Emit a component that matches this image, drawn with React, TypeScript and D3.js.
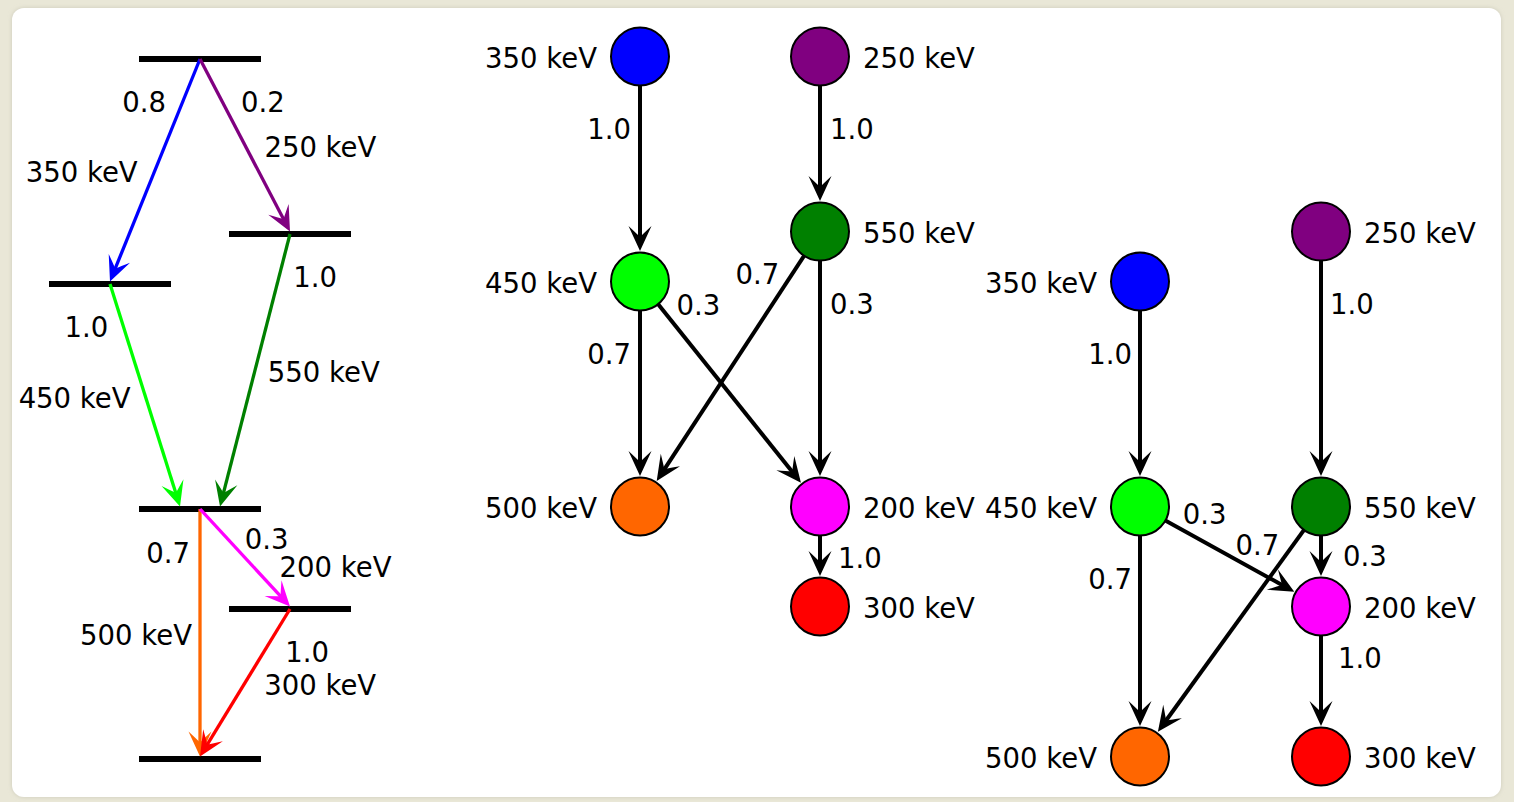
import React from 'react';
import * as d3 from 'd3';

// level scheme: levels (keV) and which column they sit in
const levelIds = ['A', 'C', 'B', 'D', 'E', 'F'];
const levelEnergies = [1400, 1050, 950, 500, 300, 0];
const levelColumns = ['main', 'right', 'left', 'main', 'right', 'main'];

// gamma transitions
const gammaEnergies = [350, 250, 450, 550, 500, 200, 300];
const gammaFrom = ['A', 'A', 'B', 'C', 'D', 'D', 'E'];
const gammaTo = ['B', 'C', 'D', 'D', 'F', 'E', 'F'];
const gammaIntensity = ['0.8', '0.2', '1.0', '1.0', '0.7', '0.3', '1.0'];
const gammaColors = ['#0000ff', '#800080', '#00ff00', '#008000', '#ff6600', '#ff00ff', '#ff0000'];
const gammaGraphColumn = [0, 1, 0, 1, 0, 1, 1];

// cascade edges between gammas (branching probability)
const cascadeFrom = [350, 250, 450, 450, 550, 550, 200];
const cascadeTo = [450, 550, 500, 200, 500, 200, 300];
const cascadeProb = ['1.0', '1.0', '0.7', '0.3', '0.7', '0.3', '1.0'];

// layout tweaks (label offsets: [dy from source, dx from line, anchor])
const arrowEndShift = [0, 0, -20, 20, 0, 0, 0];
const intensityLabelPos: [number, number, string][] = [
  [42, -17, 'end'], [42, 19, 'start'], [42, -15, 'end'], [42, 14, 'start'],
  [43, -10, 'end'], [29, 18, 'start'], [42, 21, 'start'],
];
const energyLabelPos: [number, number, string][] = [
  [112, -17, 'end'], [87, 19, 'start'], [113, -15, 'end'], [137, 13, 'start'],
  [125, -8, 'end'], [57, 27, 'start'], [75, 20, 'start'],
];
const midEdgeLabelPos: [number, number, string][] = [
  [71, -9, 'end'], [71, 10, 'start'], [71, -9, 'end'], [22, 19, 'start'],
  [41, -14, 'end'], [71, 10, 'start'], [50, 18, 'start'],
];
const rightEdgeLabelPos: [number, number, string][] = [
  [71, -8, 'end'], [71, 9, 'start'], [71, -8, 'end'], [6, 32, 'start'],
  [37, -15, 'end'], [48, 22, 'start'], [50, 17, 'start'],
];

const W = 1514;
const H = 802;
const FONT = "'DejaVu Sans', Verdana, sans-serif";
const FS = 27.5;
const R = 29;

const yLevel = d3.scaleLinear().domain([0, 1400]).range([759, 59]);
const xCol = d3.scalePoint<string>().domain(['left', 'main', 'right']).range([110, 290]);
const xMid = d3.scalePoint<number>().domain([0, 1]).range([640, 820]);
const xRight = d3.scalePoint<number>().domain([0, 1]).range([1140, 1321]);

const levelY = (id: string) => yLevel(levelEnergies[levelIds.indexOf(id)]);
const levelX = (id: string) => xCol(levelColumns[levelIds.indexOf(id)])!;

const HEAD = 'M0,0 L-25,-11.5 Q-18,-4 -14,0 Q-18,4 -25,11.5 Z';

function Arrow({ x1, y1, x2, y2, color, width }: any) {
  const a = Math.atan2(y2 - y1, x2 - x1);
  const ex = x2 - Math.cos(a) * 13;
  const ey = y2 - Math.sin(a) * 13;
  return (
    <g>
      <line x1={x1} y1={y1} x2={ex} y2={ey} stroke={color} strokeWidth={width} />
      <path d={HEAD} fill={color} transform={`translate(${x2},${y2}) rotate(${(a * 180) / Math.PI})`} />
    </g>
  );
}

function Label({ x, y, anchor, text }: any) {
  return (
    <text x={x} y={y} dy="0.4em" textAnchor={anchor} fontFamily={FONT} fontSize={FS} fill="#000">
      {text}
    </text>
  );
}

function LevelScheme() {
  return (
    <g>
      {levelIds.map((id) => (
        <line key={id} x1={levelX(id) - 61} x2={levelX(id) + 61} y1={levelY(id)} y2={levelY(id)} stroke="#000" strokeWidth={6} />
      ))}
      {gammaEnergies.map((e, i) => {
        const x1 = levelX(gammaFrom[i]);
        const y1 = levelY(gammaFrom[i]);
        const x2 = levelX(gammaTo[i]) + arrowEndShift[i];
        const y2 = levelY(gammaTo[i]) - 2.5;
        const lineX = (dy: number) => x1 + ((x2 - x1) * dy) / (y2 - y1);
        const [idy, idx, ia] = intensityLabelPos[i];
        const [edy, edx, ea] = energyLabelPos[i];
        return (
          <g key={e}>
            <Arrow x1={x1} y1={y1} x2={x2} y2={y2} color={gammaColors[i]} width={3.3} />
            <Label x={lineX(idy) + idx} y={y1 + idy} anchor={ia} text={gammaIntensity[i]} />
            <Label x={lineX(edy) + edx} y={y1 + edy} anchor={ea} text={`${e} keV`} />
          </g>
        );
      })}
    </g>
  );
}

function CascadeGraph({ xs, useSource, labelPos }: any) {
  const pos = (e: number) => {
    const i = gammaEnergies.indexOf(e);
    const lv = useSource ? gammaFrom[i] : gammaTo[i];
    return { x: xs(gammaGraphColumn[i]) as number, y: levelY(lv) - 2.5 };
  };
  return (
    <g>
      {cascadeFrom.map((f, k) => {
        const s = pos(f);
        const t = pos(cascadeTo[k]);
        const len = Math.hypot(t.x - s.x, t.y - s.y);
        const ux = (t.x - s.x) / len;
        const uy = (t.y - s.y) / len;
        const [dy, dx, anchor] = labelPos[k];
        const lx = s.x + ((t.x - s.x) * dy) / (t.y - s.y);
        return (
          <g key={k}>
            <Arrow x1={s.x} y1={s.y} x2={t.x - ux * (R + 1.5)} y2={t.y - uy * (R + 1.5)} color="#000" width={4} />
            <Label x={lx + dx} y={s.y + dy} anchor={anchor} text={cascadeProb[k]} />
          </g>
        );
      })}
      {gammaEnergies.map((e, i) => {
        const p = pos(e);
        const left = gammaGraphColumn[i] === 0;
        return (
          <g key={e}>
            <circle cx={p.x} cy={p.y} r={R} fill={gammaColors[i]} stroke="#000" strokeWidth={2} />
            <Label x={left ? p.x - 43 : p.x + 43} y={p.y} anchor={left ? 'end' : 'start'} text={`${e} keV`} />
          </g>
        );
      })}
    </g>
  );
}

export default function App() {
  return (
    <svg width={W} height={H} style={{ position: 'absolute', left: 0, top: 0 }}>
      <defs>
        <filter id="shadow" x="-5%" y="-5%" width="110%" height="110%">
          <feGaussianBlur in="SourceAlpha" stdDeviation="2" />
          <feOffset dx="0" dy="0" result="b" />
          <feFlood floodColor="#b9b7a6" floodOpacity="0.6" />
          <feComposite in2="b" operator="in" />
          <feMerge>
            <feMergeNode />
            <feMergeNode in="SourceGraphic" />
          </feMerge>
        </filter>
      </defs>
      <rect x={0} y={0} width={W} height={H} fill="#e9e7d7" />
      <rect x={12} y={8} width={1489} height={789} rx={12} fill="#ffffff" filter="url(#shadow)" />
      <LevelScheme />
      <CascadeGraph xs={xMid} useSource={true} labelPos={midEdgeLabelPos} />
      <CascadeGraph xs={xRight} useSource={false} labelPos={rightEdgeLabelPos} />
    </svg>
  );
}
